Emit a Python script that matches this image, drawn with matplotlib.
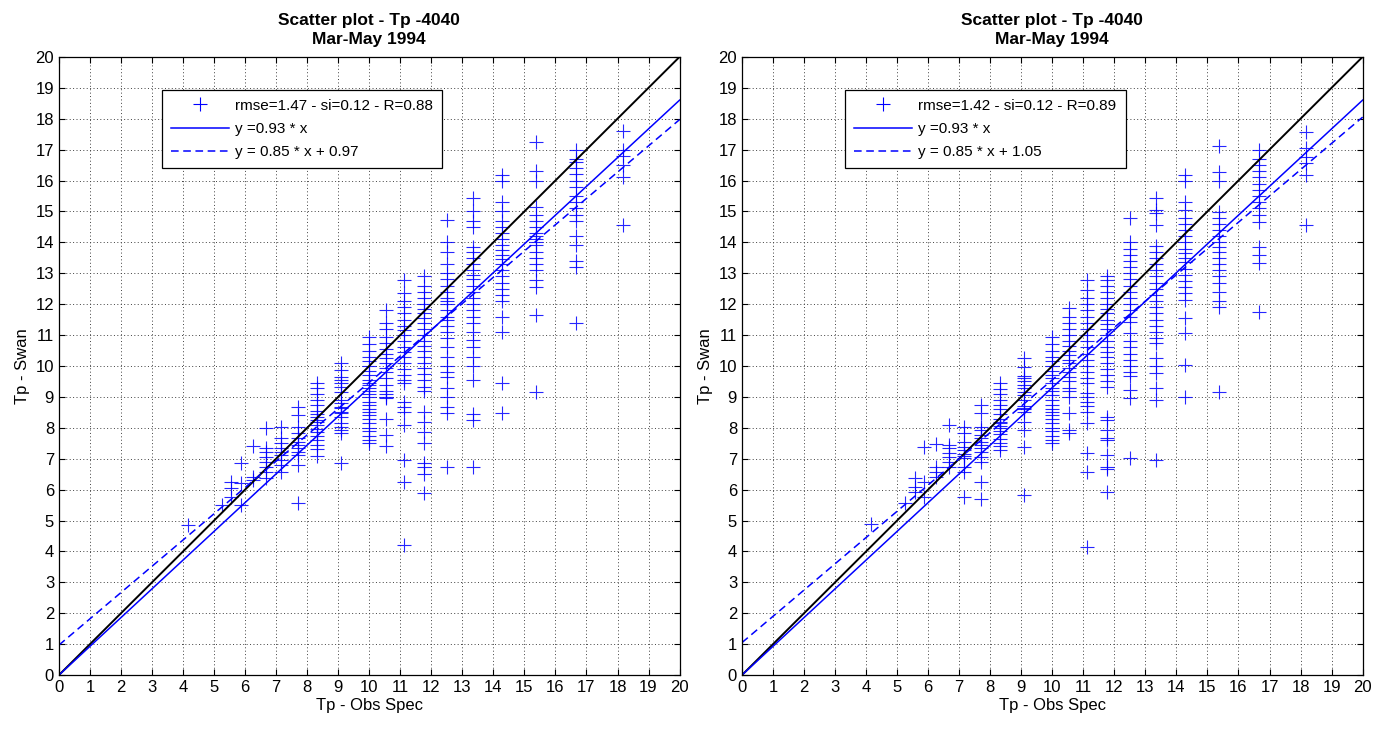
import numpy as np
import matplotlib
matplotlib.use("Agg")
import matplotlib.pyplot as plt

plt.rcParams['font.family'] = ['Liberation Sans', 'DejaVu Sans']

# spectral peak period bins (s) of the observed spectra
TP_BINS = [4.17, 5.26, 5.56, 5.88, 6.25, 6.67, 7.14, 7.69, 8.33, 9.09,
           10.0, 10.53, 11.11, 11.76, 12.5, 13.33, 14.29, 15.38, 16.67, 18.18]

# SWAN Tp per observed bin, first run
SWAN_L = [
    [4.85],
    [5.5],
    [5.77, 6.05, 6.26],
    [5.5, 6.2, 6.86],
    [6.3, 6.42, 7.42],
    [6.37, 6.58, 6.74, 6.9, 7.07, 7.23, 7.35, 8.0],
    [6.58, 6.8, 6.96, 7.12, 7.23, 7.35, 7.5, 7.67, 8.03],
    [5.56, 6.8, 7.12, 7.23, 7.34, 7.44, 7.55, 7.66, 7.82, 8.03, 8.41, 8.68],
    [7.1, 7.3, 7.45, 7.6, 7.75, 7.85, 7.95, 8.1, 8.2, 8.25, 8.35, 8.45, 8.55,
     8.75, 8.9, 9.1, 9.3, 9.45],
    [6.85, 7.82, 7.93, 8.04, 8.15, 8.36, 8.47, 8.52, 8.63, 8.68, 8.79, 8.9,
     9.17, 9.33, 9.44, 9.55, 9.65, 9.87, 10.08],
    [7.5, 7.6, 7.75, 7.9, 8.0, 8.15, 8.3, 8.4, 8.5, 8.6, 8.75, 8.85, 9.0, 9.1,
     9.2, 9.3, 9.4, 9.45, 9.55, 9.7, 9.85, 10.0, 10.15, 10.3, 10.5, 10.7, 10.95],
    [7.4, 7.77, 8.3, 8.95, 9.0, 9.1, 9.2, 9.4, 9.6, 9.8, 9.95, 10.1, 10.25,
     10.4, 10.55, 10.75, 10.95, 11.2, 11.4, 11.8],
    [4.2, 6.26, 6.96, 8.1, 8.52, 8.68, 8.85, 9.45, 9.55, 9.7, 9.9, 10.1, 10.3,
     10.45, 10.6, 10.8, 11.0, 11.15, 11.3, 11.5, 11.7, 11.9, 12.1, 12.35, 12.78],
    [5.9, 6.5, 6.74, 6.86, 7.5, 7.87, 8.2, 8.52, 9.2, 9.33, 9.55, 9.75, 9.93,
     10.1, 10.3, 10.5, 10.65, 10.8, 11.0, 11.2, 11.4, 11.55, 11.7, 11.85, 12.0,
     12.2, 12.4, 12.6, 12.9],
    [6.74, 8.47, 8.68, 9.0, 9.3, 9.65, 9.8, 10.0, 10.3, 10.6, 10.9, 11.1, 11.3,
     11.5, 11.6, 11.8, 12.0, 12.1, 12.2, 12.4, 12.6, 12.8, 13.0, 13.3, 13.7,
     14.0, 14.72],
    [6.74, 8.25, 8.45, 9.55, 10.0, 10.3, 10.6, 10.85, 11.1, 11.4, 11.6, 11.8,
     12.0, 12.2, 12.4, 12.6, 12.8, 12.95, 13.1, 13.3, 13.5, 13.7, 13.85, 14.5,
     14.7, 15.0, 15.45],
    [8.47, 9.45, 11.1, 11.6, 12.1, 12.3, 12.5, 12.7, 12.9, 13.1, 13.3, 13.45,
     13.6, 13.75, 13.9, 14.1, 14.3, 14.5, 14.7, 15.0, 15.3, 15.97, 16.18],
    [9.17, 11.65, 12.57, 12.78, 13.1, 13.3, 13.5, 13.7, 13.9, 14.0, 14.1, 14.2,
     14.3, 14.5, 14.7, 14.9, 15.15, 16.0, 16.3, 17.26],
    [11.4, 13.2, 13.4, 13.9, 14.2, 14.7, 14.9, 15.1, 15.3, 15.5, 15.8, 16.0,
     16.2, 16.4, 16.6, 16.7, 17.0],
    [14.56, 16.1, 16.5, 16.8, 17.0, 17.6],
]

# SWAN Tp per observed bin, second run
SWAN_R = [
    [4.9],
    [5.56],
    [5.93, 6.1, 6.37],
    [5.77, 6.26, 7.39],
    [6.42, 6.58, 6.74, 7.48],
    [6.74, 6.9, 7.07, 7.18, 7.34, 7.44, 8.09],
    [5.77, 6.58, 6.74, 7.01, 7.09, 7.15, 7.28, 7.39, 7.55, 7.82, 8.03],
    [5.71, 6.26, 6.9, 7.07, 7.23, 7.34, 7.44, 7.55, 7.66, 7.77, 7.93, 8.03,
     8.47, 8.74],
    [7.28, 7.4, 7.5, 7.65, 7.8, 7.9, 8.0, 8.05, 8.15, 8.2, 8.3, 8.45, 8.6,
     8.75, 8.9, 9.1, 9.25, 9.44],
    [5.83, 7.39, 7.93, 8.2, 8.5, 8.6, 8.65, 8.7, 8.9, 9.05, 9.15, 9.3, 9.4,
     9.5, 9.6, 9.66, 9.98, 10.25],
    [7.5, 7.6, 7.75, 7.9, 8.0, 8.15, 8.3, 8.4, 8.5, 8.6, 8.75, 8.9, 9.05, 9.2,
     9.3, 9.45, 9.6, 9.7, 9.85, 10.0, 10.15, 10.3, 10.5, 10.7, 10.95],
    [7.82, 7.93, 8.47, 9.0, 9.2, 9.3, 9.5, 9.65, 9.8, 9.95, 10.1, 10.2, 10.35,
     10.5, 10.65, 10.8, 11.0, 11.2, 11.4, 11.6, 11.87],
    [4.15, 6.58, 7.18, 8.15, 8.52, 8.7, 8.85, 9.0, 9.12, 9.45, 9.6, 9.8, 10.0,
     10.2, 10.4, 10.6, 10.8, 11.0, 11.2, 11.4, 11.6, 11.8, 12.0, 12.2, 12.46,
     12.78],
    [5.93, 6.68, 6.74, 7.12, 7.6, 7.66, 7.93, 8.25, 8.36, 9.33, 9.5, 9.7, 9.9,
     10.1, 10.3, 10.45, 10.6, 10.8, 11.0, 11.2, 11.35, 11.5, 11.7, 11.85, 12.0,
     12.2, 12.4, 12.6, 12.78, 12.9],
    [7.01, 8.95, 9.22, 9.66, 9.8, 10.0, 10.2, 10.4, 10.6, 10.8, 11.06, 11.43,
     11.6, 11.8, 12.0, 12.2, 12.4, 12.6, 12.8, 13.0, 13.2, 13.4, 13.6, 13.8,
     14.02, 14.78],
    [6.96, 8.9, 9.28, 9.77, 10.0, 10.25, 10.73, 10.9, 11.1, 11.3, 11.5, 11.7,
     11.9, 12.1, 12.3, 12.5, 12.7, 12.9, 13.1, 13.3, 13.5, 13.7, 13.87, 14.56,
     14.94, 15.05, 15.42],
    [9.0, 10.03, 11.06, 11.54, 12.14, 12.35, 12.55, 12.75, 12.95, 13.15, 13.35,
     13.5, 13.65, 13.8, 14.0, 14.2, 14.4, 14.6, 14.8, 15.05, 15.32, 15.97, 16.18],
    [9.17, 11.9, 12.1, 12.4, 12.7, 12.9, 13.1, 13.3, 13.5, 13.7, 13.85, 14.0,
     14.2, 14.4, 14.6, 14.8, 14.99, 16.0, 16.29, 17.1],
    [11.76, 13.32, 13.6, 13.85, 14.67, 14.9, 15.1, 15.3, 15.5, 15.7, 15.9,
     16.1, 16.3, 16.5, 16.7, 16.99],
    [14.56, 16.18, 16.56, 16.77, 17.04, 17.58],
]

# statistics and fitted coefficients of each run
STATS = ["rmse=1.47 - si=0.12 - R=0.88", "rmse=1.42 - si=0.12 - R=0.89"]
SLOPE0 = [0.93, 0.93]
SLOPE = [0.85, 0.85]
OFFSET = [0.97, 1.05]

TITLE = "Scatter plot - Tp -4040\nMar-May 1994"


def flatten(bins, cols):
    xs, ys = [], []
    for b, col in zip(bins, cols):
        xs += [b] * len(col)
        ys += col
    return np.array(xs), np.array(ys)


def draw_panel(ax, cols, stats, a0, a, b):
    x, y = flatten(TP_BINS, cols)
    sc, = ax.plot(x, y, '+', color='#0000ff', markersize=9.5,
                  markeredgewidth=0.8, alpha=0.85, label=stats)
    xx = np.array([0, 20])
    ax.plot(xx, xx, color='k', lw=1.4)
    l1, = ax.plot(xx, a0 * xx, color='#0000ff', lw=1.1,
                  label=f"y ={a0:.2f} * x")
    l2, = ax.plot(xx, a * xx + b, color='#0000ff', lw=1.1, ls=(0, (5, 3)),
                  label=f"y = {a:.2f} * x + {b:.2f}")

    ax.set_xlim(0, 20)
    ax.set_ylim(0, 20)
    ax.set_xticks(range(21))
    ax.set_yticks(range(21))
    ax.tick_params(direction='in', top=True, right=True, length=4,
                   labelsize=12, width=0.8)
    ax.grid(True, color='0.25', ls=(0, (1, 2.5)), lw=0.7)
    for s in ax.spines.values():
        s.set_linewidth(0.9)
    ax.set_xlabel("Tp - Obs Spec", fontsize=12, labelpad=2)
    ax.set_ylabel("Tp - Swan", fontsize=12, labelpad=4)
    ax.set_title(TITLE, fontsize=12.5, fontweight='bold', pad=9, linespacing=1.4)

    leg = ax.legend(handles=[sc, l1, l2], loc='upper left',
                    bbox_to_anchor=(0.166, 0.947), fontsize=11,
                    fancybox=False, framealpha=1, edgecolor='k',
                    handlelength=3.8, borderpad=0.6, labelspacing=0.6,
                    handletextpad=0.4, borderaxespad=0)
    leg.get_frame().set_linewidth(0.9)
    leg.legend_handles[0].set_alpha(1)


fig = plt.figure(figsize=(13.9, 7.29), dpi=100)
ax1 = fig.add_axes([0.0424, 0.074, 0.4465, 0.848])
ax2 = fig.add_axes([0.5338, 0.074, 0.4465, 0.848])

draw_panel(ax1, SWAN_L, STATS[0], SLOPE0[0], SLOPE[0], OFFSET[0])
draw_panel(ax2, SWAN_R, STATS[1], SLOPE0[1], SLOPE[1], OFFSET[1])

fig.savefig("out.png", dpi=100)
